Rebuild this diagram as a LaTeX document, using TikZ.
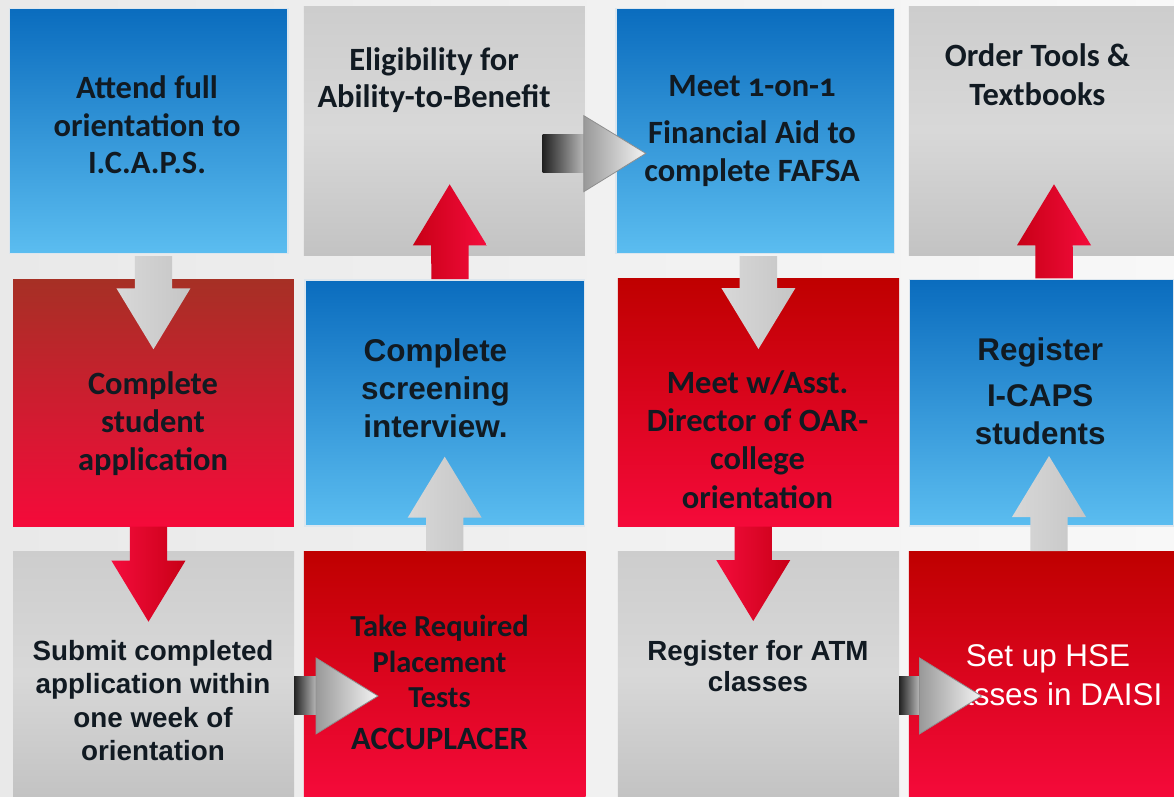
\documentclass[tikz,border=0pt]{standalone}
\usepackage{fontspec}
\usetikzlibrary{calc}
\newfontfamily\calfont{Carlito}
\newfontfamily\arialfont{Liberation Sans}

\definecolor{blueTop}{HTML}{0A6CBE}
\definecolor{blueBot}{HTML}{5BBDF0}
\definecolor{blueBorder}{HTML}{DCE6EE}
\definecolor{redTop}{HTML}{BF0000}
\definecolor{redBot}{HTML}{F50A3A}
\definecolor{brownTop}{HTML}{A63025}
\definecolor{grayTop}{HTML}{CDCDCD}
\definecolor{grayMid}{HTML}{D8D8D8}
\definecolor{grayBot}{HTML}{C3C3C3}
\definecolor{txt}{HTML}{111A22}
\definecolor{bgL}{HTML}{E9E9E9}
\definecolor{bgR}{HTML}{F8F8F8}
\definecolor{arrGrayL}{HTML}{D8D8D8}
\definecolor{arrGrayR}{HTML}{C5C5C5}
\definecolor{arrRedDark}{HTML}{C80016}
\definecolor{arrRedLight}{HTML}{F40C3C}
\definecolor{shaftL}{HTML}{222222}
\definecolor{shaftR}{HTML}{B8B8B8}
\definecolor{headL}{HTML}{999999}
\definecolor{headR}{HTML}{F4F4F4}
\definecolor{headEdge}{HTML}{8E8E8E}

\newcommand\lns[1]{\begin{tabular}[t]{@{}c@{}}#1\end{tabular}}

% vertical block arrow: style, start coordinate, tip coordinate
\newcommand\vblock[3]{%
  \coordinate (#3-h) at ($(#3)!61pt!(#2)$);
  \path[#1] ($(#2)+(-18.7,0)$) -- ($(#3-h)+(-18.7,0)$) -- ($(#3-h)+(-37,0)$) -- (#3)
    -- ($(#3-h)+(37,0)$) -- ($(#3-h)+(18.7,0)$) -- ($(#2)+(18.7,0)$) -- cycle;}

% horizontal block arrow: start coordinate, tip coordinate
\newcommand\hblock[2]{%
  \coordinate (#2-h) at ($(#2)!62pt!(#1)$);
  \path[shaftshade] ($(#1)+(0,-19)$) rectangle ($(#2-h)+(0,19)$);
  \path[headshade] ($(#2-h)+(0,-38)$) -- (#2) -- ($(#2-h)+(0,38)$) -- cycle;}

\tikzset{
  box/.style={rectangle, inner sep=0pt, outer sep=0pt},
  bluebox/.style={box, top color=blueTop, bottom color=blueBot, draw=blueBorder, line width=1.6pt},
  redbox/.style={box, top color=redTop, bottom color=redBot},
  brownbox/.style={box, top color=brownTop, bottom color=redBot},
  graybox/.style={box, top color=grayTop, bottom color=grayBot, middle color=grayMid},
  ctext/.style 2 args={font={\calfont\bfseries\fontsize{#1}{#2}\selectfont}, text=txt, inner sep=0pt, anchor=base},
  atext/.style 2 args={font={\arialfont\bfseries\fontsize{#1}{#2}\selectfont}, text=txt, inner sep=0pt, anchor=base},
  wtext/.style 2 args={font={\arialfont\fontsize{#1}{#2}\selectfont}, text=white, inner sep=0pt, anchor=base},
  grayarrow/.style={left color=arrGrayL, right color=arrGrayR},
  redup/.style={left color=arrRedDark, right color=arrRedLight},
  reddown/.style={left color=arrRedLight, right color=arrRedDark},
  shaftshade/.style={left color=shaftL, right color=shaftR},
  headshade/.style={left color=headL, right color=headR, draw=headEdge, line width=0.8pt},
}

\begin{document}
\begin{tikzpicture}[x=1pt, y=-1pt]
\useasboundingbox (0,0) rectangle (1174,796);
\shade[left color=bgL, right color=bgR] (0,0) rectangle (1174,796);

% boxes
\node[bluebox, minimum width=278.2pt, minimum height=245pt] (A) at (148.7,130.8) {};
\node[graybox, minimum width=280.9pt, minimum height=248.3pt] (B) at (444.35,130.85) {};
\node[bluebox, minimum width=278.4pt, minimum height=245pt] (C) at (755.2,130.8) {};
\node[graybox, minimum width=265.2pt, minimum height=249pt] (D) at (1041.4,130.5) {};

\node[brownbox, minimum width=280.9pt, minimum height=247.7pt] (A2) at (153.45,402.85) {};
\node[bluebox, minimum width=279.4pt, minimum height=246pt] (B2) at (444.7,403) {};
\node[redbox, minimum width=281.1pt, minimum height=248.7pt] (C2) at (758.45,402.35) {};
\node[bluebox, minimum width=264.5pt, minimum height=246.7pt] (D2) at (1041.75,402.65) {};

\node[graybox, minimum width=281pt, minimum height=245pt] (A3) at (153.5,673.5) {};
\node[redbox, minimum width=281.6pt, minimum height=245pt] (B3) at (444.7,673.5) {};
\node[graybox, minimum width=281.1pt, minimum height=245pt] (C3) at (758.45,673.5) {};
\node[redbox, minimum width=265.2pt, minimum height=245pt] (D3) at (1041.4,673.5) {};

% texts
\node[ctext={32.5}{37.8}] (tA) at (147,98.3) {\lns{Attend full\\ orientation to\\ I.C.A.P.S.}};
\node[ctext={32.5}{37.3}] (tB) at (434,70) {\lns{Eligibility for\\ Ability-to-Benefit}};
\node[ctext={32.5}{38.3}] (tC) at (752,96.7) {\lns{Meet {\addfontfeatures{Numbers=OldStyle}1-on-1}\\[8.4pt] Financial Aid to\\ complete FAFSA}};
\node[ctext={32.5}{38.3}] (tD) at (1037.4,66.7) {\lns{Order Tools \&\\ Textbooks}};

\node[ctext={32.5}{38}] (tA2) at (153,394) {\lns{Complete\\ student\\ application}};
\node[atext={31.5}{37.8}] (tB2) at (435.5,361.7) {\lns{Complete\\ screening\\ interview.}};
\node[ctext={32.5}{38.3}] (tC2) at (757.5,393.3) {\lns{Meet w/Asst.\\ Director of OAR-\\ college\\ orientation}};
\node[atext={31.4}{37.3}] (tD2) at (1040.2,360) {\lns{Register\\[9.4pt] I-CAPS\\ students}};

\node[atext={27.8}{33.5}] (tA3) at (153,660) {\lns{Submit completed\\ application within\\ one week of\\ orientation}};
\node[ctext={30.5}{35.3}] (tB3) at (439.5,636.7) {\lns{Take Required\\ Placement\\ Tests\\[6.7pt] {\fontsize{32.5}{35.3}\selectfont ACCUPLACER}}};
\node[atext={27.7}{31.7}] (tC3) at (758,660) {\lns{Register for ATM\\ classes}};
\node[wtext={31.4}{38.3}] (tD3) at (1048,666.7) {\lns{Set up HSE\\ classes in DAISI}};

% arrow end points
\coordinate (a1s) at ($(A.south -| A2.north)+(0,2.7)$);
\coordinate (a1t) at ($(A2.north)+(0,70.3)$);
\coordinate (a2s) at ($(A2.south)+(-5,0)$);
\coordinate (a2t) at ($(A3.north)+(-5,70.7)$);
\coordinate (a3s) at ($(A3.east)+(0,22.4)$);
\coordinate (a3t) at ($(B3.west)+(74.1,22.5)$);
\coordinate (a4s) at ($(B3.north)+(0,0)$);
\coordinate (a4t) at ($(B2.south)+(0,-69.3)$);
\coordinate (a5s) at ($(B2.north)+(5.3,-1)$);
\coordinate (a5t) at ($(B.south)+(5.3,-70.7)$);
\coordinate (a6s) at ($(B.east)+(-42.1,23)$);
\coordinate (a6t) at ($(C.west)+(29.8,22.6)$);
\coordinate (a7s) at ($(C.south)+(3.2,2.7)$);
\coordinate (a7t) at ($(C2.north)+(0,71)$);
\coordinate (a8s) at ($(C2.south)+(-5.2,0)$);
\coordinate (a8t) at ($(C3.north)+(-5.2,70)$);
\coordinate (a9s) at ($(C3.east)+(0,22.4)$);
\coordinate (a9t) at ($(D3.west)+(72.7,22.5)$);
\coordinate (a10s) at ($(D3.north)+(7.6,0)$);
\coordinate (a10t) at ($(D2.south)+(7.25,-70)$);
\coordinate (a11s) at ($(D2.north)+(12.3,-1)$);
\coordinate (a11t) at ($(D.south)+(12.6,-70.7)$);

% arrows
\vblock{grayarrow}{a1s}{a1t}
\vblock{reddown}{a2s}{a2t}
\hblock{a3s}{a3t}
\vblock{grayarrow}{a4s}{a4t}
\vblock{redup}{a5s}{a5t}
\hblock{a6s}{a6t}
\vblock{grayarrow}{a7s}{a7t}
\vblock{reddown}{a8s}{a8t}
\hblock{a9s}{a9t}
\vblock{grayarrow}{a10s}{a10t}
\vblock{redup}{a11s}{a11t}
\end{tikzpicture}
\end{document}
